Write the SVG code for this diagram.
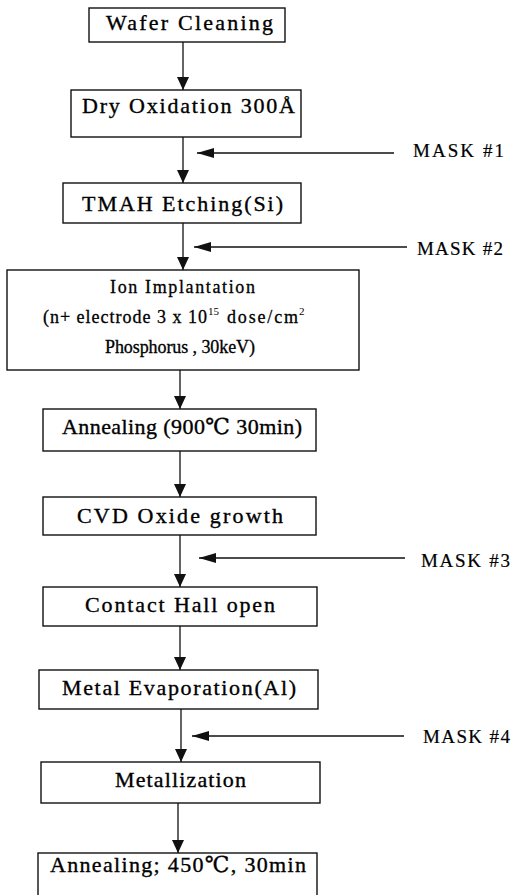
<svg xmlns="http://www.w3.org/2000/svg" width="511" height="895" viewBox="0 0 511 895">
<style>
.box{fill:#fff;stroke:#111;stroke-width:1.4}
.t{font-family:"Liberation Serif","DejaVu Serif","Noto Sans CJK KR",serif;font-size:22px;fill:#000;stroke:#000;stroke-width:0.35}
.s{font-family:"Liberation Serif","DejaVu Serif",serif;font-size:18px;fill:#000;stroke:#000;stroke-width:0.3}
.sup{font-family:"Liberation Serif","DejaVu Serif",serif;font-size:11px;fill:#000}
.m{font-family:"Liberation Serif","DejaVu Serif",serif;font-size:19px;fill:#000;stroke:#000;stroke-width:0.2}
.c{stroke:#111;stroke-width:1.3;fill:none}
</style>
<defs>
<marker id="ah" markerUnits="userSpaceOnUse" markerWidth="14" markerHeight="14" viewBox="0 0 14 14" refX="13" refY="7" orient="auto">
<path d="M0,1 L13,7 L0,13 Z" fill="#111"/>
</marker>
<marker id="ahm" markerUnits="userSpaceOnUse" markerWidth="18" markerHeight="12" viewBox="0 0 18 12" refX="17" refY="6" orient="auto">
<path d="M0,1 L17,6 L0,11 Z" fill="#111"/>
</marker>
</defs>
<g id="connectors">
<line class="c" x1="183" y1="42" x2="183" y2="90" marker-end="url(#ah)"/>
<line class="c" x1="183" y1="137" x2="183" y2="183" marker-end="url(#ah)"/>
<line class="c" x1="183" y1="223" x2="183" y2="270" marker-end="url(#ah)"/>
<line class="c" x1="180" y1="370" x2="180" y2="409" marker-end="url(#ah)"/>
<line class="c" x1="180" y1="451" x2="180" y2="497" marker-end="url(#ah)"/>
<line class="c" x1="180" y1="535" x2="180" y2="587" marker-end="url(#ah)"/>
<line class="c" x1="180" y1="626" x2="180" y2="670" marker-end="url(#ah)"/>
<line class="c" x1="181" y1="709" x2="181" y2="762" marker-end="url(#ah)"/>
<line class="c" x1="178" y1="803" x2="178" y2="853" marker-end="url(#ah)"/>
<line class="c" x1="394" y1="153" x2="197" y2="153" marker-end="url(#ahm)"/>
<line class="c" x1="407" y1="247" x2="194" y2="247" marker-end="url(#ahm)"/>
<line class="c" x1="405" y1="558" x2="199" y2="558" marker-end="url(#ahm)"/>
<line class="c" x1="404" y1="736" x2="192" y2="736" marker-end="url(#ahm)"/>
</g>
<g id="n1"><rect class="box" x="89" y="8" width="196" height="34"/><text class="t" x="106" y="30" font-size="21" textLength="167" lengthAdjust="spacing">Wafer Cleaning</text></g>
<g id="n2"><rect class="box" x="71" y="90" width="230" height="47"/><text class="t" x="82" y="113" textLength="213" lengthAdjust="spacing">Dry Oxidation 300Å</text></g>
<g id="n3"><rect class="box" x="63" y="183" width="238" height="40"/><text class="t" x="82" y="211" font-size="23" textLength="201" lengthAdjust="spacing">TMAH Etching(Si)</text></g>
<g id="n4"><rect class="box" x="7" y="270" width="352" height="100"/>
<text class="s" x="110" y="293" textLength="145" lengthAdjust="spacing">Ion Implantation</text>
<text class="s" x="43" y="323" textLength="164" lengthAdjust="spacing">(n+ electrode 3 x 10</text>
<text class="sup" x="208" y="315">15</text>
<text class="s" x="227" y="323" textLength="71" lengthAdjust="spacing">dose/cm</text>
<text class="sup" x="299" y="315">2</text>
<text class="s" x="105" y="353" textLength="150" lengthAdjust="spacing">Phosphorus , 30keV)</text>
</g>
<g id="n5"><rect class="box" x="43" y="409" width="273" height="42"/><text class="t" x="62" y="434" textLength="240" lengthAdjust="spacing">Annealing (900℃ 30min)</text></g>
<g id="n6"><rect class="box" x="43" y="497" width="273" height="38"/><text class="t" x="77" y="523" textLength="206" lengthAdjust="spacing">CVD Oxide growth</text></g>
<g id="n7"><rect class="box" x="43" y="587" width="274" height="39"/><text class="t" x="85" y="612" textLength="190" lengthAdjust="spacing">Contact Hall open</text></g>
<g id="n8"><rect class="box" x="39" y="670" width="279" height="39"/><text class="t" x="62" y="695" textLength="234" lengthAdjust="spacing">Metal Evaporation(Al)</text></g>
<g id="n9"><rect class="box" x="41" y="762" width="279" height="41"/><text class="t" x="115" y="787" textLength="131" lengthAdjust="spacing">Metallization</text></g>
<g id="n10"><rect class="box" x="38" y="853" width="279" height="50"/><text class="t" x="50" y="872" textLength="256" lengthAdjust="spacing">Annealing; 450℃, 30min</text></g>
<g id="m1"><text class="m" x="413" y="157" textLength="91" lengthAdjust="spacing">MASK #1</text></g>
<g id="m2"><text class="m" x="417" y="255" textLength="86" lengthAdjust="spacing">MASK #2</text></g>
<g id="m3"><text class="m" x="421" y="567" textLength="89" lengthAdjust="spacing">MASK #3</text></g>
<g id="m4"><text class="m" x="423" y="743" textLength="87" lengthAdjust="spacing">MASK #4</text></g>
</svg>
